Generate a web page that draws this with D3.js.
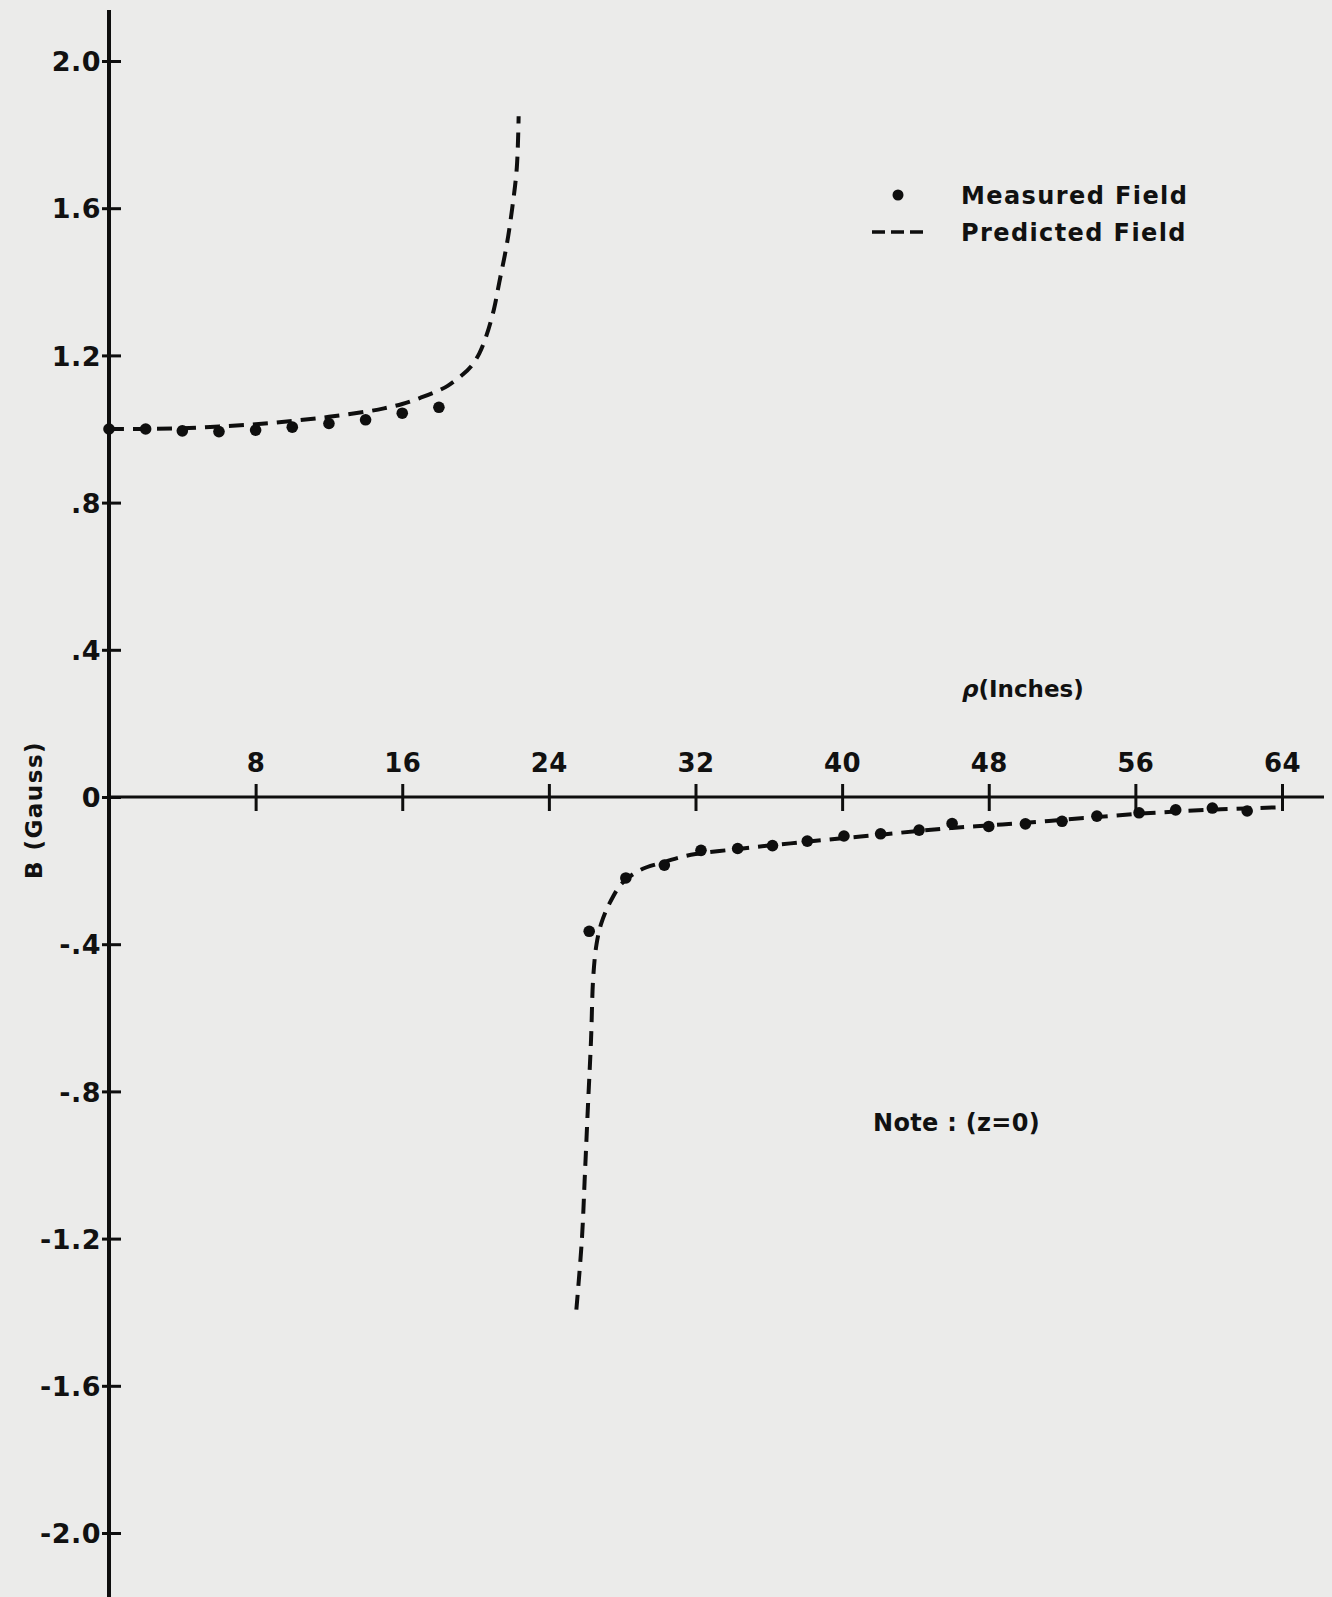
<!DOCTYPE html>
<html>
<head>
<meta charset="utf-8">
<script src="https://cdn.jsdelivr.net/npm/d3@7"></script>
<style>
  html, body { margin: 0; padding: 0; background: #ebebea; }
  svg { display: block; }
  .lbl { font-family: "DejaVu Sans", sans-serif; font-weight: bold; fill: #111; }
</style>
</head>
<body>
<div class="chart"></div>
<script>
// measured field, upper branch (rho in inches, B in gauss)
var measuredInnerRho = [0, 2, 4, 6, 8, 10, 12, 14, 16, 18];
var measuredInnerB = [1.0, 1.0, 0.995, 0.993, 0.997, 1.005, 1.015, 1.025, 1.043, 1.059];

// measured field, lower branch
var measuredOuterRho = [26.2, 28.2, 30.3, 32.3, 34.3, 36.2, 38.1, 40.1, 42.1, 44.2, 46.0, 48.0, 50.0, 52.0, 53.9, 56.2, 58.2, 60.2, 62.1];
var measuredOuterB = [-0.365, -0.22, -0.185, -0.145, -0.14, -0.132, -0.12, -0.106, -0.1, -0.09, -0.072, -0.08, -0.073, -0.066, -0.052, -0.043, -0.035, -0.03, -0.038];

// predicted field, upper branch
var predictedInnerRho = [0, 2, 4, 6, 8, 10, 12, 14, 15, 16, 17, 18, 18.5, 19.3, 19.75, 20.2, 20.6, 21.0, 21.3, 21.7, 22.0, 22.25, 22.35];
var predictedInnerB = [1.0, 1.0, 1.002, 1.007, 1.013, 1.022, 1.033, 1.047, 1.056, 1.068, 1.085, 1.105, 1.118, 1.148, 1.17, 1.205, 1.255, 1.325, 1.40, 1.50, 1.60, 1.71, 1.85];

// predicted field, lower branch
var predictedOuterRho = [25.5, 25.8, 25.97, 26.13, 26.3, 26.42, 26.6, 26.85, 27.3, 28.0, 29.0, 30.2, 31.0, 32, 34, 36, 38, 40, 42, 44, 46, 48, 50, 52, 54, 56, 58, 60, 62, 63.8];
var predictedOuterB = [-1.393, -1.203, -1.021, -0.842, -0.66, -0.49, -0.4, -0.345, -0.29, -0.234, -0.198, -0.178, -0.166, -0.155, -0.143, -0.132, -0.122, -0.112, -0.103, -0.093, -0.084, -0.077, -0.07, -0.062, -0.054, -0.046, -0.04, -0.035, -0.031, -0.028];

var xTicks = [8, 16, 24, 32, 40, 48, 56, 64];
var yTicks = [-2.0, -1.6, -1.2, -0.8, -0.4, 0, 0.4, 0.8, 1.2, 1.6, 2.0];
var yTickLabels = ["-2.0", "-1.6", "-1.2", "-.8", "-.4", "0", ".4", ".8", "1.2", "1.6", "2.0"];

var legendLabels = ["Measured Field", "Predicted Field"];

function zip(xs, ys) {
  return xs.map(function (d, i) { return {rho: d, b: ys[i]}; });
}

drawChart();

function drawChart() {
  var width = 1332;
  var height = 1597;
  var ink = "#0e0e0e";

  var svg = d3.select('div.chart').append('svg')
      .attr('width', width)
      .attr('height', height);

  var xScale = d3.scaleLinear()
      .domain([0, 64])
      .range([109, 1282]);
  var yScale = d3.scaleLinear()
      .domain([-2, 2])
      .range([1533, 61]);

  // y axis
  var yAxis = d3.axisLeft(yScale)
      .tickValues(yTicks)
      .tickSize(-12)
      .tickPadding(8)
      .tickFormat(function (d, i) { return yTickLabels[i]; });

  var yAxis_g = svg.append('g')
      .attr('class', 'y axis')
      .attr('transform', 'translate(' + xScale(0) + ',0)')
      .call(yAxis);
  yAxis_g.select('.domain').remove();
  yAxis_g.selectAll('.tick line')
      .attr('x1', -7)
      .attr('stroke', ink)
      .attr('stroke-width', 3);
  yAxis_g.selectAll('.tick text')
      .attr('class', 'lbl')
      .style('font-size', '27px')
      .style('letter-spacing', '0.5px')
      .attr('dy', '0.36em');

  svg.append('line')
      .attr('x1', xScale(0)).attr('x2', xScale(0))
      .attr('y1', 10).attr('y2', height)
      .attr('stroke', ink)
      .attr('stroke-width', 4);

  // x axis
  var xAxis = d3.axisTop(xScale)
      .tickValues(xTicks)
      .tickSize(13)
      .tickPadding(12)
      .tickFormat(d3.format('d'));

  var xAxis_g = svg.append('g')
      .attr('class', 'x axis')
      .attr('transform', 'translate(0,' + yScale(0) + ')')
      .call(xAxis);
  xAxis_g.select('.domain').remove();
  xAxis_g.selectAll('.tick line')
      .attr('y1', 14)
      .attr('stroke', ink)
      .attr('stroke-width', 3);
  xAxis_g.selectAll('.tick text')
      .attr('class', 'lbl')
      .style('font-size', '26px')
      .style('letter-spacing', '0.5px');

  svg.append('line')
      .attr('x1', xScale(0)).attr('x2', 1324)
      .attr('y1', yScale(0)).attr('y2', yScale(0))
      .attr('stroke', ink)
      .attr('stroke-width', 3);

  // predicted field (dashed)
  var line = d3.line()
      .x(function (d) { return xScale(d.rho); })
      .y(function (d) { return yScale(d.b); })
      .curve(d3.curveCatmullRom.alpha(0.5));

  [zip(predictedInnerRho, predictedInnerB), zip(predictedOuterRho, predictedOuterB)].forEach(function (data) {
    svg.append('path')
      .attr('d', line(data))
      .attr('fill', 'none')
      .attr('stroke', ink)
      .attr('stroke-width', 4)
      .attr('stroke-dasharray', '15,9');
  });

  // measured field (dots)
  var measured = zip(measuredInnerRho, measuredInnerB).concat(zip(measuredOuterRho, measuredOuterB));
  svg.selectAll('.dot')
    .data(measured)
    .enter().append('circle')
    .attr('class', 'dot')
    .attr('r', 5.8)
    .attr('cx', function (d) { return xScale(d.rho); })
    .attr('cy', function (d) { return yScale(d.b); })
    .attr('fill', ink);

  // legend
  var legend = svg.append('g').attr('transform', 'translate(872,195)');
  legend.append('circle')
    .attr('cx', 26).attr('cy', 0).attr('r', 5.5)
    .attr('fill', ink);
  legend.append('line')
    .attr('x1', 0).attr('x2', 51)
    .attr('y1', 37).attr('y2', 37)
    .attr('stroke', ink)
    .attr('stroke-width', 3.5)
    .attr('stroke-dasharray', '13,6');
  legend.selectAll('text.leg')
    .data(legendLabels)
    .enter().append('text')
    .attr('class', 'lbl leg')
    .attr('x', 89)
    .attr('y', function (d, i) { return i * 37; })
    .attr('dy', '0.36em')
    .style('font-size', '24px')
    .style('letter-spacing', '1.4px')
    .text(function (d) { return d; });

  // axis titles and note
  var rhoLabel = svg.append('text')
    .attr('class', 'lbl')
    .attr('x', 962)
    .attr('y', 697)
    .style('font-size', '23px');
  rhoLabel.append('tspan').style('font-style', 'italic').text('ρ');
  rhoLabel.append('tspan').text('(Inches)');

  svg.append('text')
    .attr('class', 'lbl')
    .attr('transform', 'translate(42,810) rotate(-90)')
    .attr('text-anchor', 'middle')
    .style('font-size', '23px')
    .style('letter-spacing', '1.5px')
    .text('B (Gauss)');

  svg.append('text')
    .attr('class', 'lbl')
    .attr('x', 873)
    .attr('y', 1122)
    .attr('dy', '0.36em')
    .style('font-size', '24px')
    .style('letter-spacing', '0.3px')
    .text('Note : (z=0)');
}
</script>
</body>
</html>
